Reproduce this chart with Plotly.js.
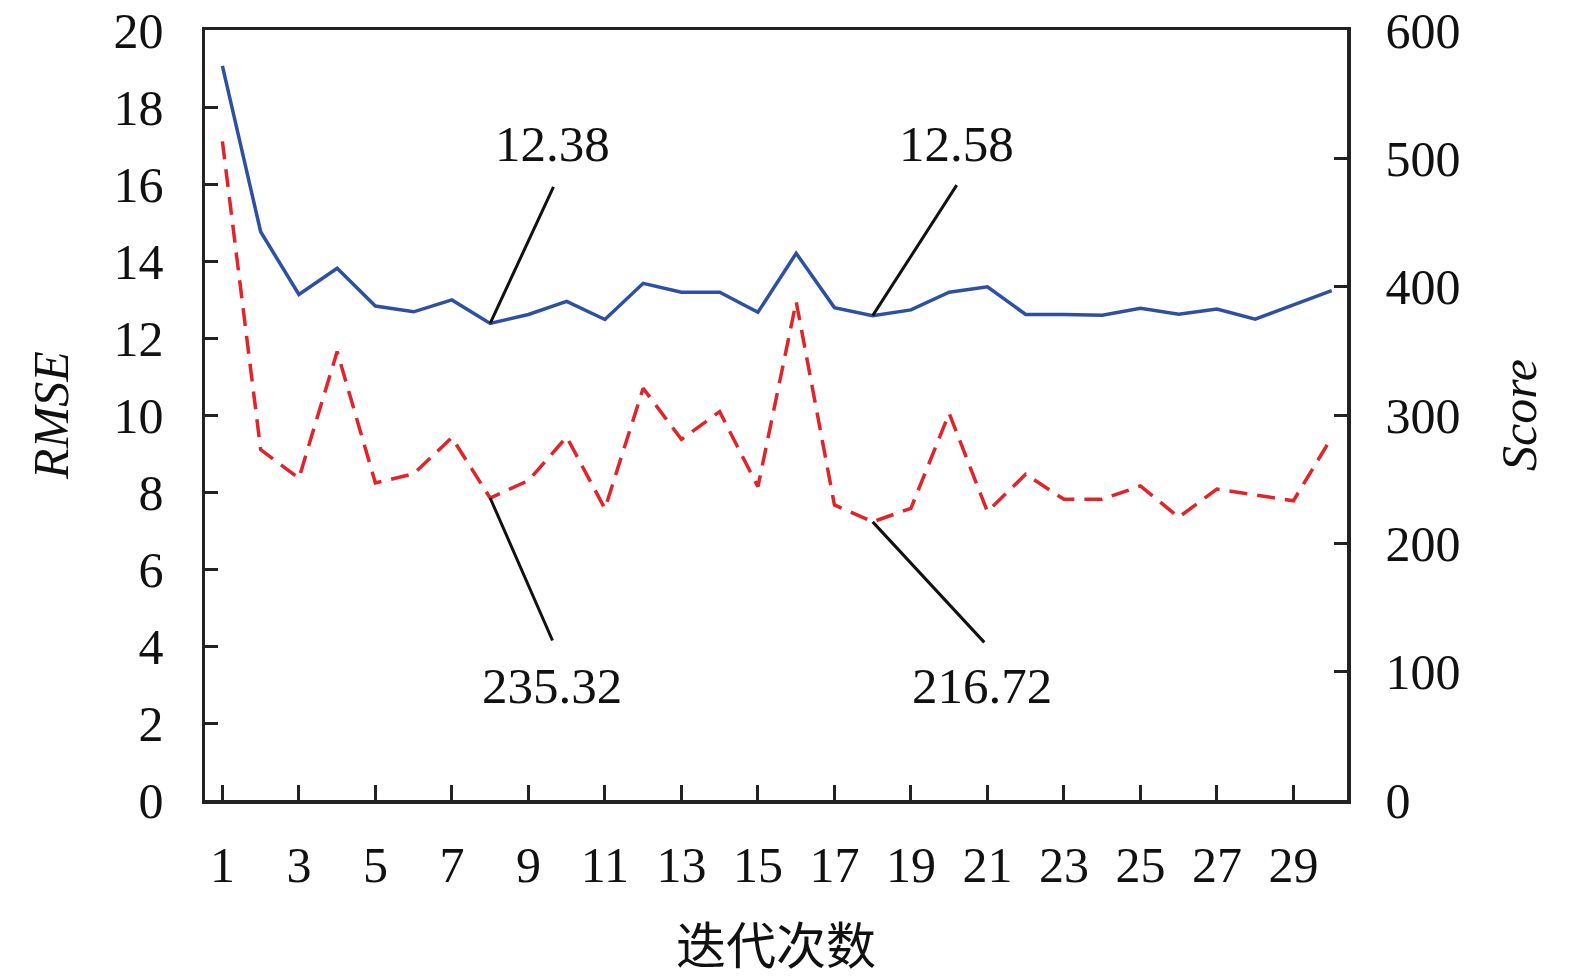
<!DOCTYPE html>
<html>
<head>
<meta charset="utf-8">
<script src="https://cdn.plot.ly/plotly-3.0.1.min.js"></script>
<style>html,body{margin:0;padding:0;background:#fff;}#chart{width:1575px;height:978px;}</style>
</head>
<body>
<div id="chart"></div>
<script>
const iterations = [1,2,3,4,5,6,7,8,9,10,11,12,13,14,15,16,17,18,19,20,21,22,23,24,25,26,27,28,29,30];
const rmse = [19.07,14.76,13.13,13.81,12.83,12.68,12.99,12.38,12.61,12.95,12.48,13.42,13.19,13.19,12.67,14.20,12.79,12.58,12.73,13.19,13.33,12.61,12.61,12.59,12.77,12.62,12.75,12.49,12.86,13.23];
const score = [513.2,273.0,250.7,349.5,247.0,254.2,282.4,235.32,248.9,282.9,227.0,320.8,281.0,302.6,244.1,388.3,229.9,216.72,227.3,301.3,224.7,253.8,234.3,234.3,244.7,220.3,242.3,237.7,233.2,282.6];
const xTickVals = [1,3,5,7,9,11,13,15,17,19,21,23,25,27,29];
const xTickLabels = ['1','3','5','7','9','11','13','15','17','19','21','23','25','27','29'];
const xTitle = '迭代次数';
const yTitle = 'RMSE';
const y2Title = 'Score';
const callouts = [
  {i: 7, axis: 'y', label: '12.38', ax: 64, ay: -138, tx: 9.62, ty: 17.05},
  {i: 17, axis: 'y', label: '12.58', ax: 85, ay: -132, tx: 20.2, ty: 17.05},
  {i: 7, axis: 'y2', label: '235.32', ax: 63, ay: 144, tx: 9.62, ty: 2.95},
  {i: 17, axis: 'y2', label: '216.72', ax: 113, ay: 122, tx: 20.85, ty: 2.95}
];

const serif = 'Liberation Serif, Times New Roman, serif';
const traces = [
  {x: iterations, y: rmse, type: 'scatter', mode: 'lines', name: 'RMSE', yaxis: 'y',
   line: {color: 'rgb(46,80,164)', width: 3.5}},
  {x: iterations, y: score, type: 'scatter', mode: 'lines', name: 'Score', yaxis: 'y2',
   line: {color: 'rgb(226,35,42)', width: 3.5, dash: '18px,10px'}}
];

const annotations = [];
callouts.forEach(c => {
  annotations.push({
    x: iterations[c.i], y: c.axis === 'y' ? rmse[c.i] : score[c.i],
    xref: 'x', yref: c.axis, text: '', showarrow: true, arrowhead: 0,
    arrowwidth: 3, arrowcolor: '#111', ax: c.ax, ay: c.ay, standoff: 0, startstandoff: 0
  });
  annotations.push({
    x: c.tx, y: c.ty, xref: 'x', yref: 'y', text: c.label, showarrow: false,
    font: {family: serif, size: 51, color: '#111'}, xanchor: 'center', yanchor: 'middle'
  });
});

const layout = {
  width: 1575, height: 978,
  margin: {l: 205, r: 228, t: 30, b: 178},
  paper_bgcolor: '#fff', plot_bgcolor: '#fff',
  showlegend: false,
  font: {family: serif, size: 50, color: '#111'},
  xaxis: {
    range: [0.545, 30.4], tickvals: xTickVals, ticktext: xTickLabels,
    ticks: 'inside', ticklen: 15, tickwidth: 3, tickcolor: '#222',
    showline: true, linewidth: 3.5, linecolor: '#222', mirror: true,
    showgrid: false, zeroline: false, ticklabelstandoff: 18,
    tickfont: {family: serif, size: 50, color: '#111'},
    title: {text: xTitle, font: {family: 'Noto Sans CJK SC, sans-serif', size: 50, color: '#111'}, standoff: 41}
  },
  yaxis: {
    range: [0, 20], dtick: 2, tick0: 0,
    ticks: 'inside', ticklen: 13, tickwidth: 3, tickcolor: '#222',
    showline: true, linewidth: 3.5, linecolor: '#222', mirror: false,
    showgrid: false, zeroline: false, ticklabelstandoff: 28,
    tickfont: {family: serif, size: 50, color: '#111'},
    title: {text: yTitle, font: {family: serif, size: 50, color: '#111', style: 'italic'}, standoff: 30}
  },
  yaxis2: {
    range: [0, 600], dtick: 100, tick0: 0, overlaying: 'y', side: 'right',
    ticks: 'inside', ticklen: 13, tickwidth: 3, tickcolor: '#222',
    showline: true, linewidth: 3.5, linecolor: '#222',
    showgrid: false, zeroline: false, ticklabelstandoff: 25,
    tickfont: {family: serif, size: 50, color: '#111'},
    title: {text: y2Title, font: {family: serif, size: 50, color: '#111', style: 'italic'}, standoff: 42}
  },
  annotations: annotations
};

Plotly.newPlot('chart', traces, layout, {displayModeBar: false, staticPlot: true});
</script>
</body>
</html>
